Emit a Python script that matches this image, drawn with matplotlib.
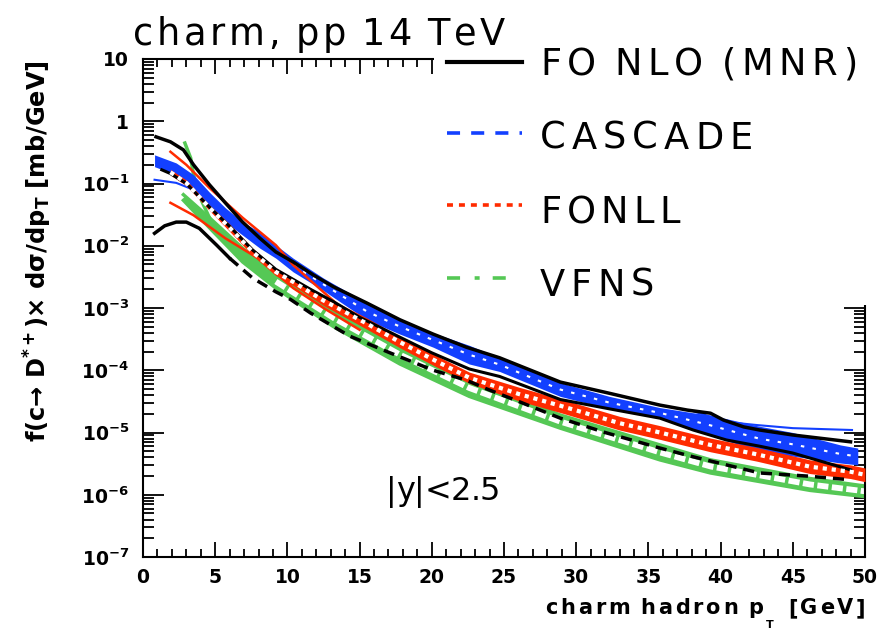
import numpy as np
import matplotlib
matplotlib.use("Agg")
import matplotlib.pyplot as plt
from matplotlib.lines import Line2D
from matplotlib.patches import Rectangle
from matplotlib.ticker import LogLocator, MultipleLocator, NullFormatter

plt.rcParams["mathtext.default"] = "bf"
plt.rcParams["lines.scale_dashes"] = False

W, H = 879, 629

# ---- values (log10 of dsigma/dpT in mb/GeV) ----
# FO NLO (MNR): upper / central / lower
mnr_up_pt = [0.9, 1.9, 2.8, 3.5, 4.6, 5.7, 6.9, 8.1, 9.2, 10.4, 11.8, 13.2, 15.5, 17.8, 20.1, 22.4, 24.7,
             28.9, 32.3, 35.8, 37.7, 39.3, 40.2, 41.6, 42.7, 45, 49]
mnr_up = [-0.25, -0.33, -0.46, -0.70, -1.02, -1.31, -1.62, -1.88, -2.1, -2.26, -2.47, -2.66, -2.92, -3.19, -3.42,
          -3.63, -3.8, -4.19, -4.37, -4.56, -4.64, -4.69, -4.8, -4.91, -4.96, -5.04, -5.15]
mnr_c_pt = [1.3, 1.9, 3, 4.6, 6, 7.6, 9.2, 10.4, 11.6, 13.2, 15, 17.8, 20, 22.6, 24.7, 28.9, 32.3, 35.8,
            38.1, 40.4, 42.7, 45, 49]
mnr_c = [-0.78, -0.84, -1.0, -1.38, -1.69, -2.07, -2.38, -2.54, -2.7, -2.9, -3.15, -3.47, -3.72, -3.98, -4.1,
         -4.47, -4.62, -4.77, -4.96, -5.12, -5.22, -5.33, -5.6]
mnr_lo_pt = [0.8, 1.5, 2.3, 3.0, 3.9, 5.1, 6.0, 7.6, 9.2, 10.2, 11.6, 14.3, 17.1, 20.1, 22.4, 23.8, 26, 28.9,
             32, 35.8, 38.1, 42.7, 46, 49]
mnr_lo = [-1.8, -1.68, -1.62, -1.62, -1.72, -1.99, -2.2, -2.52, -2.74, -2.86, -3.08, -3.45, -3.72, -4.0, -4.16,
          -4.3, -4.5, -4.77, -5.0, -5.25, -5.39, -5.65, -5.7, -5.76]

# CASCADE band and thin lines
cas_pt = [0.8, 2.3, 3.5, 4.6, 5.7, 6.9, 8.1, 9.2, 10.4, 12.5, 15.5, 17.8, 20.1, 22.6, 24.7, 28.9, 32.3, 35.8,
          38, 39.3, 42.7, 45, 48.3, 49.5]
cas_hi = [-0.54, -0.67, -0.86, -1.14, -1.39, -1.62, -1.78, -1.99, -2.2, -2.52, -2.92, -3.18, -3.4, -3.6, -3.8,
          -4.2, -4.42, -4.6, -4.68, -4.72, -4.9, -5.0, -5.2, -5.25]
cas_lo = [-0.73, -0.86, -1.07, -1.35, -1.62, -1.83, -2.04, -2.2, -2.42, -2.72, -3.19, -3.42, -3.63, -3.9, -4.02,
          -4.42, -4.62, -4.77, -4.94, -5.05, -5.3, -5.38, -5.49, -5.52]
cas_thin_a_pt = [0.8, 2.3, 3.5, 4.6]
cas_thin_a = [-0.94, -0.99, -1.1, -1.3]
cas_thin_b_pt = [38, 40.4, 42.5, 45, 49.1]
cas_thin_b = [-4.65, -4.83, -4.88, -4.93, -4.96]
cas_thin_c_pt = [45.5, 46.7, 49.1]
cas_thin_c = [-5.33, -5.28, -5.28]

# FONLL band and its outer lines
fonll_pt = [1.9, 3.0, 4.6, 6.0, 7.6, 9.2, 10.4, 12.5, 15.5, 17.8, 20.1, 22.6, 26, 28.9, 33, 35.8, 39.3,
            42.5, 46.2, 49, 50]
fonll_hi = [-0.775, -0.945, -1.345, -1.65, -2.04, -2.36, -2.52, -2.8, -3.16, -3.46, -3.74, -4.03, -4.27, -4.46,
            -4.74, -4.89, -5.09, -5.24, -5.44, -5.52, -5.57]
fonll_lo = [-0.865, -1.035, -1.435, -1.77, -2.16, -2.48, -2.64, -2.96, -3.34, -3.64, -3.92, -4.21, -4.49, -4.68,
            -4.96, -5.11, -5.31, -5.46, -5.66, -5.74, -5.79]
fonll_up_pt = [1.9, 3.0, 4.6, 6.9, 9.2, 10.4, 11.8, 13.5]
fonll_up = [-0.49, -0.70, -1.07, -1.55, -1.99, -2.31, -2.6, -2.95]
fonll_dn_pt = [1.9, 3.5, 5.7, 8.1, 10.4, 12.5, 15]
fonll_dn = [-1.31, -1.51, -1.88, -2.22, -2.68, -3.0, -3.35]

# VFNS band
vfns_pt = [2.8, 4.6, 6.9, 9.2, 10.4, 13.2, 17.8, 22.6, 28.9, 35.8, 39.3, 46.2, 50]
vfns_hi = [-1.18, -1.55, -2.04, -2.47, -2.63, -3.02, -3.6, -4.15, -4.72, -5.2, -5.44, -5.74, -5.86]
vfns_lo = [-1.27, -1.71, -2.26, -2.68, -2.87, -3.3, -3.9, -4.42, -4.93, -5.44, -5.65, -5.93, -6.03]
vfns_steep_pt = [2.9, 3.3, 3.5, 3.8, 4.2, 4.6]
vfns_steep = [-0.35, -0.59, -0.86, -1.14, -1.35, -1.55]

x_ticks = [0, 5, 10, 15, 20, 25, 30, 35, 40, 45, 50]
y_ticks = [1e-7, 1e-6, 1e-5, 1e-4, 1e-3, 1e-2, 1e-1, 1, 10]
y_tick_labels = [r"$10^{-7}$", r"$10^{-6}$", r"$10^{-5}$", r"$10^{-4}$", r"$10^{-3}$",
                 r"$10^{-2}$", r"$10^{-1}$", "1", "10"]
legend_labels = ["FO NLO (MNR)", "CASCADE", "FONLL", "VFNS"]

BLACK = "black"
BLUE = "#1340ff"
RED = "#ff2b00"
GREEN = "#55c855"


def y(v):
    return 10.0 ** np.asarray(v)


def px2fig(x, yy):
    return x / W, 1 - yy / H


fig = plt.figure(figsize=(W / 100, H / 100), dpi=100)
ax = fig.add_axes([143 / W, (H - 557) / H, 722 / W, 498 / H])
ax.set_yscale("log")
ax.set_xlim(0, 50)
ax.set_ylim(1e-7, 10)

# VFNS
ax.fill_between(vfns_pt, y(vfns_lo), y(vfns_hi), color=GREEN, lw=0, zorder=2)
mid = (np.array(vfns_lo) + np.array(vfns_hi)) / 2
ax.plot(vfns_pt[3:], y(mid[3:]), color="white", lw=4.2, dashes=(8, 2.5), zorder=2.1)
ax.plot(vfns_pt, y(vfns_hi), color=GREEN, lw=2.5, zorder=2.2)
ax.plot(vfns_pt, y(vfns_lo), color=GREEN, lw=2.5, zorder=2.2)
ax.plot(vfns_steep_pt, y(vfns_steep), color=GREEN, lw=2.5, zorder=2.2)

# CASCADE
ax.fill_between(cas_pt, y(cas_lo), y(cas_hi), color=BLUE, lw=0, zorder=3)
mid = (np.array(cas_lo) + np.array(cas_hi)) / 2
ax.plot(cas_pt[8:], y(mid[8:]), color="white", lw=1.5, dashes=(2.5, 6), zorder=3.1)
for px_, py_ in [(cas_thin_a_pt, cas_thin_a), (cas_thin_b_pt, cas_thin_b), (cas_thin_c_pt, cas_thin_c)]:
    ax.plot(px_, y(py_), color=BLUE, lw=1.5, zorder=3)

# FONLL (MNR central runs inside it at low pT)
ax.fill_between(fonll_pt, y(fonll_lo), y(fonll_hi), color=RED, lw=0, zorder=4)
ax.plot(mnr_c_pt, y(mnr_c), color=BLACK, lw=2.2, zorder=4.05)
mid = (np.array(fonll_lo) + np.array(fonll_hi)) / 2
ax.plot(fonll_pt, y(mid), color="white", lw=3, dashes=(3, 3.5), zorder=4.1)
ax.plot(fonll_up_pt, y(fonll_up), color=RED, lw=1.8, zorder=4)
ax.plot(fonll_dn_pt, y(fonll_dn), color=RED, lw=1.8, zorder=4)

# MNR upper / lower
ax.plot(mnr_up_pt, y(mnr_up), color=BLACK, lw=2.5, zorder=5)
ax.plot(mnr_lo_pt[:7], y(mnr_lo[:7]), color=BLACK, lw=2.5, zorder=5)
ax.plot(mnr_lo_pt[6:], y(mnr_lo[6:]), color=BLACK, lw=2.5, dashes=(8, 5), zorder=5)

# axes in ROOT style
for s in ax.spines.values():
    s.set_linewidth(1.5)
ax.xaxis.set_minor_locator(MultipleLocator(1))
ax.yaxis.set_minor_locator(LogLocator(base=10, subs=np.arange(2, 10), numticks=20))
ax.yaxis.set_minor_formatter(NullFormatter())
ax.set_xticks(x_ticks)
ax.set_xticklabels([str(v) for v in x_ticks], fontsize=13.5, fontweight="bold")
ax.set_yticks(y_ticks)
ax.set_yticklabels(y_tick_labels, fontsize=13.5, fontweight="bold")
ax.tick_params(which="both", direction="in", top=True, right=True, width=1.3)
ax.tick_params(axis="x", which="major", length=11, pad=8)
ax.tick_params(axis="x", which="minor", length=6)
ax.tick_params(axis="y", which="major", length=15, pad=10)
ax.tick_params(axis="y", which="minor", length=8)

# legend box (covers part of the frame, as in the original)
fig.add_artist(Rectangle(px2fig(434, 305), (W - 434) / W, (305 - 40) / H,
                         transform=fig.transFigure, facecolor="white", edgecolor="none", zorder=5))

renderer = fig.canvas.get_renderer()


def spaced_text(x0, x1, yb, s, size, weight="normal", z=10):
    # draw characters one by one so the text fills x0..x1 (pixels)
    arts, widths = [], []
    for ch in s:
        if ch == " ":
            arts.append(None)
            widths.append(size / 72 * 100 * 0.22)
            continue
        t = fig.text(0, 0, ch, fontsize=size, fontweight=weight, ha="left", va="baseline", zorder=z)
        widths.append(t.get_window_extent(renderer).width)
        arts.append(t)
    gap = (x1 - x0 - sum(widths)) / max(len(s) - 1, 1)
    x = x0
    for t, w in zip(arts, widths):
        if t is not None:
            t.set_position(px2fig(x, yb))
        x += w + gap


# legend samples
samples = [
    dict(color=BLACK, lw=3.0, x1=522),
    dict(color=BLUE, lw=2.6, dashes=(9.4, 8), x1=522),
    dict(color=RED, lw=2.6, dashes=(4.3, 4.3), x1=522),
    dict(color=GREEN, lw=2.6, dashes=(9.4, 10.5, 3.6, 9.4), x1=507),
]
rows = [62, 133, 205, 278]
baselines = [75, 149, 223, 296]
text_right = [857, 753, 680, 654]
for lab, smp, ry, bl, xr in zip(legend_labels, samples, rows, baselines, text_right):
    kw = dict(color=smp["color"], lw=smp["lw"], transform=fig.transFigure, zorder=6)
    if "dashes" in smp:
        kw["dashes"] = smp["dashes"]
    x0f, yf = px2fig(447, ry)
    x1f, _ = px2fig(smp["x1"], ry)
    fig.add_artist(Line2D([x0f, x1f], [yf, yf], **kw))
    spaced_text(540, xr, bl, lab, 26.5)

# title and region label
spaced_text(133, 505, 45, "charm, pp 14 TeV", 26.5, z=11)
spaced_text(386, 500, 500, "|y|<2.5", 23, z=11)

# x axis title
spaced_text(545, 763, 614, "charm hadron p", 15, weight="bold", z=11)
fig.text(*px2fig(766, 628), "T", fontsize=8, fontweight="bold", ha="left", va="baseline")
spaced_text(788, 865, 614, "[GeV]", 15, weight="bold", z=11)

# y axis title
ylab = fig.text(*px2fig(38, 60), "f(c→ D$^{*+}$)× dσ/dp$_{T}$ [mb/GeV]", rotation=90,
                fontsize=16, fontweight="bold", ha="center", va="top")
h = ylab.get_window_extent(renderer).height
ylab.set_fontsize(16 * 383 / h)

fig.savefig("out.png", dpi=100)
